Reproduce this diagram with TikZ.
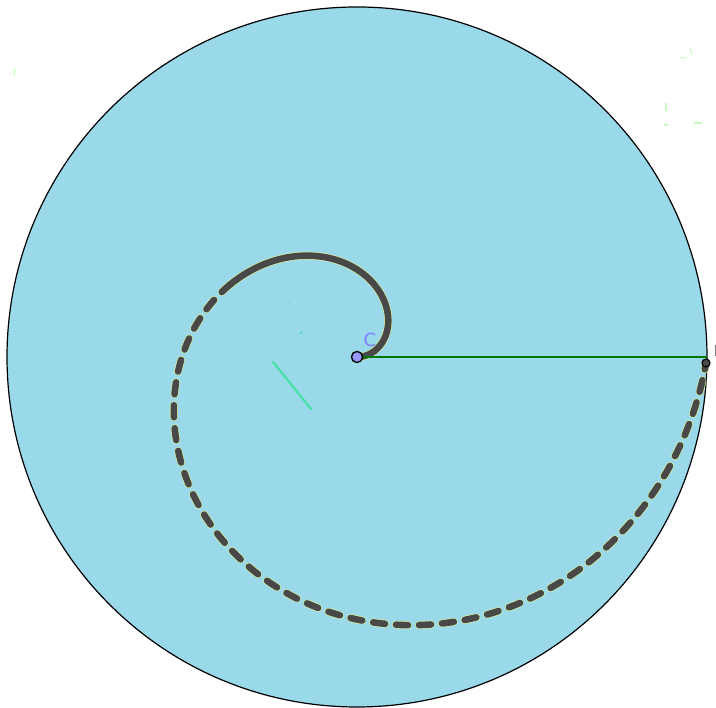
\documentclass[tikz,border=0pt]{standalone}
\usepackage{fontspec}
\setmainfont{DejaVu Sans}
\definecolor{diskfill}{RGB}{153,217,234}
\definecolor{spiraldark}{RGB}{72,72,72}
\definecolor{spiralrim}{RGB}{214,240,160}
\definecolor{radiusgreen}{RGB}{0,120,0}
\definecolor{pointfill}{RGB}{150,150,255}
\definecolor{labelblue}{RGB}{125,125,255}
\definecolor{mintmark}{RGB}{70,225,165}
\definecolor{mintfaint}{RGB}{120,220,200}
\definecolor{faintgreen}{RGB}{200,250,190}
\tikzset{
  disk/.style={draw=black,line width=1.2pt,fill=diskfill},
  rimline/.style={draw=spiralrim,line width=8pt,line cap=round},
  darkline/.style={draw=spiraldark,line width=6.6pt,line cap=round},
  gaps/.style={dash pattern=on 12pt off 11pt},
  radius/.style={draw=radiusgreen,line width=2.4pt},
  cpoint/.style={circle,draw=black,line width=1.2pt,fill=pointfill,inner sep=0pt,minimum size=11pt},
  epoint/.style={circle,draw=black,line width=1.2pt,fill=spiraldark,inner sep=0pt,minimum size=8pt},
  clabel/.style={text=labelblue,font=\fontsize{18}{18}\selectfont},
  elabel/.style={text=gray,font=\fontsize{15}{15}\selectfont}
}
\begin{document}
\begin{tikzpicture}[x=1pt,y=1pt]
\useasboundingbox (0,0) rectangle (716,708);
% disk
\path[disk] (357,351) circle (350);
% spiral r = 350 t / 360
\path[rimline] plot[domain=0:150,samples=120,smooth] ({357+0.97222*\x*cos(\x)},{351+0.97222*\x*sin(\x)});
\path[rimline,gaps] plot[domain=150:359,samples=200,smooth] ({357+0.97222*\x*cos(\x)},{351+0.97222*\x*sin(\x)});
\path[darkline] plot[domain=0:150,samples=120,smooth] ({357+0.97222*\x*cos(\x)},{351+0.97222*\x*sin(\x)});
\path[darkline,gaps] plot[domain=150:359,samples=200,smooth] ({357+0.97222*\x*cos(\x)},{351+0.97222*\x*sin(\x)});
% points
\coordinate (Cc) at (357,351);
\coordinate (Rend) at (707,351);
\node[cpoint] (C) at (Cc) {};
\draw[radius] (C.east) -- (Rend);
\node[cpoint] (C2) at (Cc) {};
\node[clabel] (Clab) at (370,368) {C};
\node[epoint] (E) at (706,345) {};
\node[elabel,anchor=west] (Elab) at (710,357) {I};
% stray marks
\draw[mintmark,line width=2.2pt,line cap=round] (273,346) .. controls (290,325) .. (311,299);
\fill[mintmark] (301,375) circle (1.3);
\fill[mintfaint] (289,405) circle (1);
\fill[mintfaint] (264,411) circle (1);
\draw[faintgreen,line width=1.2pt] (666,605) -- (666,597);
\draw[faintgreen,line width=1.2pt] (664,583) -- (668,583) (694,585) -- (702,585);
\draw[faintgreen,line width=1.2pt] (680,650) -- (686,650) (690,660) -- (692,654);
\draw[faintgreen,line width=1.2pt] (14,633) -- (15,640);
\end{tikzpicture}
\end{document}
